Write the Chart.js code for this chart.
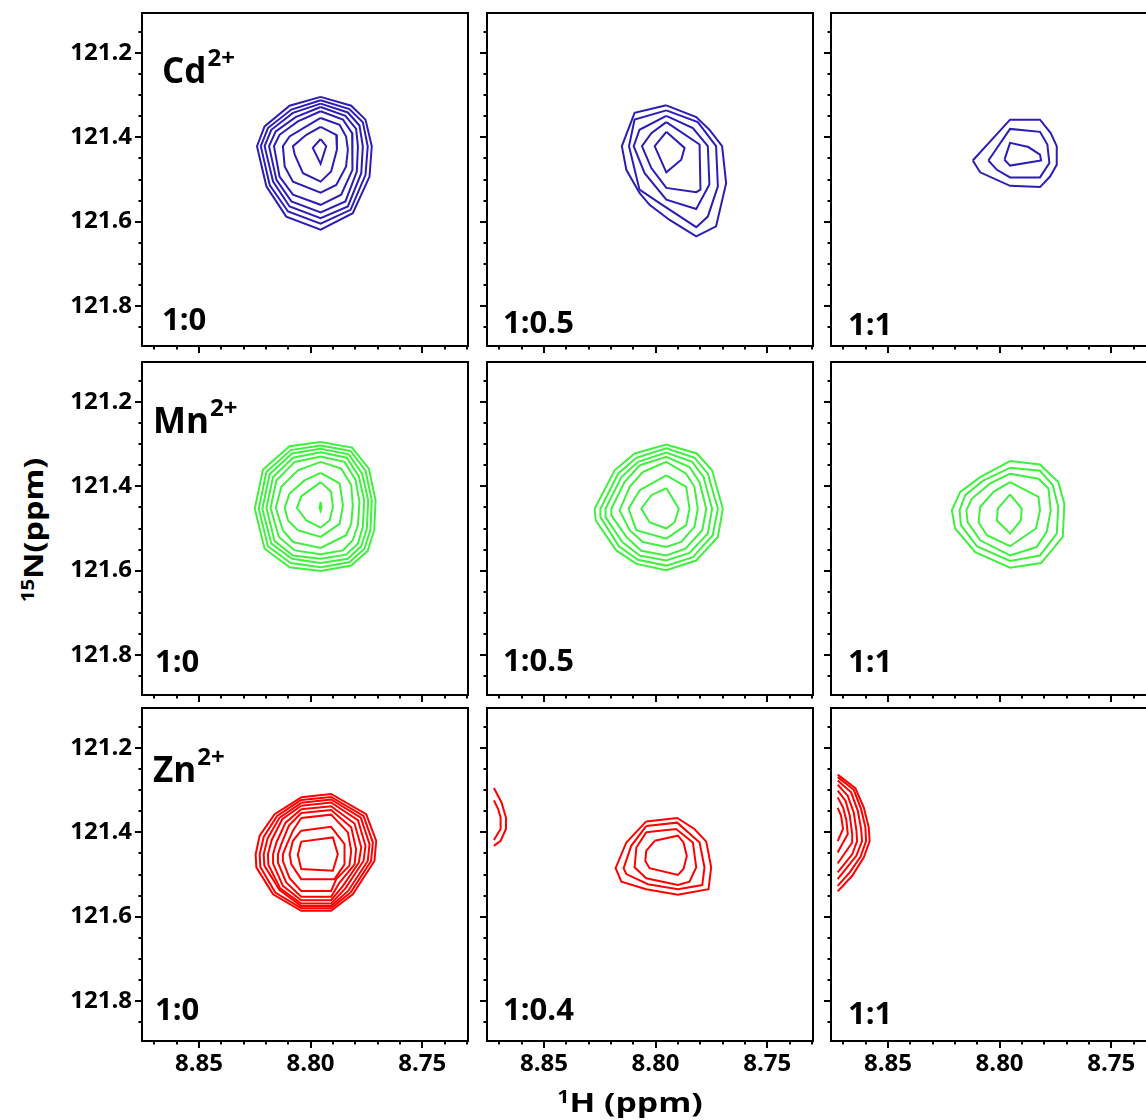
<!DOCTYPE html>
<html>
<head>
<meta charset="utf-8">
<title>HSQC titration contours</title>
<script src="https://cdn.jsdelivr.net/npm/chart.js@4.4.1/dist/chart.umd.min.js"></script>
<style>
  html, body { margin: 0; padding: 0; background: #fff; overflow: hidden; }
  body { width: 1146px; height: 1120px; position: relative; font-family: 'Open Sans', sans-serif; }
  canvas { position: absolute; }
  .title { position: absolute; font-weight: 700; font-size: 27px; line-height: 1; color: #000; white-space: nowrap; }
  .title sup { font-size: 17px; position: relative; top: -0.55em; vertical-align: baseline; }
  #xTitle { left: 630px; top: 1088px; transform: translateX(-50%) scaleX(1.25); }
  #yTitle { left: 32px; top: 530px; transform: translate(-50%, -50%) rotate(-90deg) scaleX(1.2); }
</style>
</head>
<body>
<div id="grid"></div>
<div id="xTitle" class="title"><sup>1</sup>H (ppm)</div>
<div id="yTitle" class="title"><sup>15</sup>N(ppm)</div>
<script>
// axis ranges and tick labels (ppm)
const xRange = [8.7295, 8.8755];
const yRange = [121.105, 121.895];
const xMajor = [8.85, 8.80, 8.75];
const yMajor = [121.2, 121.4, 121.6, 121.8];

const metals = ['Cd', 'Mn', 'Zn'];
const charges = ['2+', '2+', '2+'];
const ratios = [
  ['1:0', '1:0.5', '1:1'],
  ['1:0', '1:0.5', '1:1'],
  ['1:0', '1:0.4', '1:1']
];

// contour rings, [1H, 15N] in ppm, outer level first
const cd_1_0 = [
  [[8.7955,121.304],[8.7818,121.325],[8.7754,121.358],[8.7726,121.421],[8.7736,121.493],[8.7811,121.580],[8.7955,121.619],[8.8109,121.588],[8.8198,121.516],[8.8240,121.421],[8.8206,121.374],[8.8094,121.325]],
  [[8.7955,121.312],[8.7826,121.333],[8.7766,121.364],[8.7744,121.421],[8.7754,121.489],[8.7821,121.572],[8.7955,121.605],[8.8101,121.576],[8.8183,121.513],[8.8223,121.421],[8.8191,121.378],[8.8086,121.334]],
  [[8.7955,121.320],[8.7833,121.341],[8.7781,121.372],[8.7766,121.421],[8.7773,121.485],[8.7833,121.564],[8.7955,121.592],[8.8094,121.564],[8.8168,121.505],[8.8206,121.421],[8.8176,121.382],[8.8079,121.342]],
  [[8.7955,121.328],[8.7844,121.349],[8.7796,121.380],[8.7788,121.421],[8.7793,121.481],[8.7844,121.552],[8.7955,121.578],[8.8086,121.552],[8.8153,121.501],[8.8186,121.421],[8.8156,121.386],[8.8067,121.352]],
  [[8.7955,121.338],[8.7855,121.358],[8.7814,121.390],[8.7811,121.425],[8.7814,121.477],[8.7863,121.536],[8.7955,121.560],[8.8079,121.536],[8.8139,121.493],[8.8164,121.421],[8.8139,121.394],[8.8057,121.362]],
  [[8.7955,121.354],[8.7870,121.370],[8.7841,121.398],[8.7833,121.429],[8.7841,121.469],[8.7885,121.513],[8.7955,121.531],[8.8079,121.505],[8.8116,121.469],[8.8124,121.421],[8.8094,121.398],[8.8019,121.374]],
  [[8.7955,121.375],[8.7885,121.394],[8.7882,121.429],[8.7908,121.481],[8.7955,121.505],[8.8034,121.485],[8.8071,121.441],[8.8079,121.421],[8.8019,121.394]],
  [[8.7955,121.404],[8.7930,121.421],[8.7955,121.463],[8.7990,121.425]]
];
const cd_1_05 = [
  [[8.7952,121.324],[8.7818,121.352],[8.7759,121.382],[8.7702,121.421],[8.7684,121.509],[8.7729,121.611],[8.7818,121.635],[8.7937,121.596],[8.8027,121.560],[8.8072,121.532],[8.8131,121.477],[8.8151,121.421],[8.8094,121.342]],
  [[8.7952,121.336],[8.7811,121.364],[8.7729,121.421],[8.7721,121.516],[8.7766,121.588],[8.7818,121.613],[8.7982,121.556],[8.8072,121.524],[8.8119,121.421],[8.8094,121.358]],
  [[8.7952,121.349],[8.7833,121.378],[8.7766,121.421],[8.7759,121.512],[8.7818,121.570],[8.7952,121.548],[8.8049,121.485],[8.8098,121.421],[8.8072,121.382]],
  [[8.7952,121.364],[8.7803,121.417],[8.7799,121.524],[8.7818,121.530],[8.7952,121.520],[8.8019,121.473],[8.8061,121.421],[8.8019,121.390]],
  [[8.7952,121.387],[8.7870,121.425],[8.7885,121.453],[8.7952,121.483],[8.8004,121.421]]
];
const cd_1_1 = [
  [[8.8120,121.455],[8.7953,121.358],[8.7819,121.358],[8.7771,121.390],[8.7744,121.421],[8.7744,121.465],[8.7774,121.493],[8.7819,121.518],[8.7953,121.515],[8.8087,121.483]],
  [[8.8050,121.455],[8.7953,121.380],[8.7819,121.387],[8.7786,121.417],[8.7777,121.461],[8.7819,121.495],[8.7953,121.495],[8.8012,121.477]],
  [[8.7978,121.453],[8.7953,121.413],[8.7871,121.423],[8.7819,121.441],[8.7814,121.455],[8.7953,121.467]]
];
const mn_1_0 = [
  [[8.7955,121.295],[8.7814,121.308],[8.7739,121.358],[8.7709,121.433],[8.7715,121.504],[8.7744,121.553],[8.7818,121.588],[8.7955,121.601],[8.8094,121.592],[8.8206,121.548],[8.8250,121.453],[8.8213,121.360],[8.8094,121.305]],
  [[8.7955,121.303],[8.7821,121.316],[8.7754,121.363],[8.7726,121.433],[8.7732,121.503],[8.7759,121.548],[8.7826,121.580],[8.7955,121.592],[8.8089,121.582],[8.8191,121.542],[8.8232,121.453],[8.8198,121.366],[8.8089,121.314]],
  [[8.7955,121.311],[8.7829,121.324],[8.7769,121.370],[8.7742,121.433],[8.7748,121.500],[8.7773,121.542],[8.7833,121.572],[8.7955,121.582],[8.8083,121.572],[8.8176,121.536],[8.8216,121.453],[8.8183,121.371],[8.8083,121.322]],
  [[8.7955,121.319],[8.7838,121.332],[8.7784,121.376],[8.7760,121.433],[8.7766,121.496],[8.7788,121.536],[8.7841,121.562],[8.7955,121.572],[8.8079,121.564],[8.8161,121.530],[8.8198,121.451],[8.8168,121.378],[8.8079,121.332]],
  [[8.7955,121.329],[8.7848,121.342],[8.7799,121.384],[8.7781,121.437],[8.7788,121.492],[8.7811,121.528],[8.7855,121.552],[8.7955,121.561],[8.8071,121.552],[8.8142,121.520],[8.8179,121.451],[8.8153,121.386],[8.8071,121.342]],
  [[8.7955,121.342],[8.7863,121.358],[8.7818,121.397],[8.7811,121.445],[8.7818,121.489],[8.7841,121.516],[8.7955,121.546],[8.8079,121.532],[8.8124,121.504],[8.8156,121.451],[8.8131,121.401],[8.8057,121.362]],
  [[8.7955,121.368],[8.7870,121.393],[8.7855,121.445],[8.7870,121.489],[8.7955,121.520],[8.8057,121.504],[8.8101,121.481],[8.8116,121.451],[8.8094,121.417],[8.8027,121.386]],
  [[8.7955,121.390],[8.7908,121.413],[8.7900,121.449],[8.7915,121.481],[8.7955,121.498],[8.8019,121.481],[8.8061,121.451],[8.8042,121.424]],
  [[8.7955,121.437],[8.7951,121.451],[8.7955,121.458],[8.7960,121.451]]
];
const mn_1_05 = [
  [[8.8094,121.322],[8.7952,121.301],[8.7815,121.322],[8.7747,121.362],[8.7699,121.453],[8.7721,121.520],[8.7818,121.576],[8.7952,121.599],[8.8086,121.584],[8.8176,121.552],[8.8268,121.481],[8.8273,121.453],[8.8183,121.362]],
  [[8.8086,121.332],[8.7952,121.310],[8.7826,121.332],[8.7766,121.370],[8.7721,121.453],[8.7744,121.516],[8.7833,121.568],[8.7952,121.588],[8.8079,121.574],[8.8164,121.542],[8.8247,121.473],[8.8247,121.453],[8.8168,121.370]],
  [[8.8079,121.342],[8.7952,121.320],[8.7836,121.342],[8.7785,121.378],[8.7747,121.453],[8.7766,121.512],[8.7848,121.558],[8.7952,121.576],[8.8071,121.564],[8.8149,121.532],[8.8224,121.473],[8.8224,121.453],[8.8153,121.378]],
  [[8.8071,121.350],[8.7952,121.330],[8.7848,121.354],[8.7803,121.390],[8.7773,121.453],[8.7791,121.504],[8.7866,121.548],[8.7952,121.564],[8.8064,121.553],[8.8131,121.520],[8.8198,121.469],[8.8198,121.453],[8.8139,121.390]],
  [[8.8057,121.366],[8.7952,121.342],[8.7863,121.370],[8.7826,121.401],[8.7811,121.453],[8.7826,121.496],[8.7885,121.532],[8.7952,121.544],[8.8057,121.532],[8.8116,121.504],[8.8161,121.457],[8.8116,121.401]],
  [[8.7952,121.374],[8.7863,121.401],[8.7848,121.453],[8.7863,121.492],[8.7952,121.524],[8.8086,121.504],[8.8121,121.453],[8.8071,121.409]],
  [[8.7952,121.404],[8.7896,121.453],[8.7915,121.485],[8.7952,121.500],[8.8027,121.485],[8.8064,121.453],[8.8019,121.421]]
];
const mn_1_1 = [
  [[8.7953,121.340],[8.7819,121.348],[8.7737,121.390],[8.7710,121.441],[8.7717,121.520],[8.7814,121.582],[8.7953,121.593],[8.8109,121.556],[8.8199,121.500],[8.8214,121.457],[8.8176,121.413],[8.8087,121.378]],
  [[8.7953,121.356],[8.7819,121.363],[8.7762,121.397],[8.7737,121.449],[8.7744,121.512],[8.7819,121.564],[8.7953,121.577],[8.8102,121.542],[8.8173,121.492],[8.8179,121.457],[8.8154,121.421],[8.8072,121.386]],
  [[8.7953,121.370],[8.7826,121.382],[8.7781,121.405],[8.7771,121.457],[8.7789,121.508],[8.7834,121.544],[8.7953,121.564],[8.8087,121.528],[8.8143,121.485],[8.8149,121.457],[8.8124,121.429],[8.8042,121.393]],
  [[8.7953,121.390],[8.7826,121.425],[8.7819,121.457],[8.7837,121.500],[8.7953,121.542],[8.8057,121.516],[8.8094,121.485],[8.8087,121.449],[8.8027,121.413]],
  [[8.7953,121.419],[8.7901,121.453],[8.7905,121.481],[8.7953,121.512],[8.8012,121.481],[8.8008,121.453]]
];
const zn_1_0 = [
  [[8.8042,121.317],[8.7908,121.309],[8.7751,121.357],[8.7706,121.420],[8.7714,121.468],[8.7811,121.547],[8.7908,121.586],[8.8042,121.586],[8.8168,121.547],[8.8243,121.483],[8.8246,121.452],[8.8228,121.408],[8.8161,121.357]],
  [[8.8042,121.323],[8.7908,121.316],[8.7763,121.361],[8.7721,121.424],[8.7729,121.468],[8.7821,121.543],[8.7908,121.580],[8.8042,121.580],[8.8158,121.543],[8.8225,121.482],[8.8228,121.452],[8.8210,121.411],[8.8150,121.361]],
  [[8.8042,121.330],[8.7908,121.322],[8.7775,121.365],[8.7736,121.428],[8.7744,121.468],[8.7832,121.539],[8.7908,121.575],[8.8042,121.575],[8.8139,121.537],[8.8207,121.479],[8.8210,121.452],[8.8192,121.414],[8.8139,121.365]],
  [[8.8042,121.337],[8.7908,121.329],[8.7788,121.371],[8.7754,121.432],[8.7763,121.468],[8.7844,121.533],[8.7908,121.569],[8.8042,121.569],[8.8136,121.533],[8.8189,121.477],[8.8191,121.452],[8.8174,121.418],[8.8127,121.369]],
  [[8.8042,121.345],[8.7908,121.338],[8.7803,121.379],[8.7773,121.436],[8.7784,121.472],[8.7855,121.527],[8.7908,121.561],[8.8042,121.561],[8.8124,121.527],[8.8168,121.474],[8.8168,121.452],[8.8153,121.424],[8.8112,121.377]],
  [[8.8042,121.354],[8.7908,121.347],[8.7818,121.388],[8.7796,121.440],[8.7803,121.476],[8.7870,121.519],[8.7908,121.553],[8.8042,121.553],[8.8109,121.519],[8.8146,121.472],[8.8146,121.452],[8.8131,121.428],[8.8097,121.384]],
  [[8.8042,121.366],[8.7908,121.358],[8.7833,121.400],[8.7818,121.444],[8.7826,121.479],[8.7885,121.511],[8.7908,121.539],[8.8042,121.539],[8.8094,121.509],[8.8124,121.468],[8.8124,121.452],[8.8109,121.432],[8.8079,121.396]],
  [[8.8042,121.396],[8.7908,121.387],[8.7848,121.428],[8.7848,121.476],[8.7893,121.511],[8.8042,121.511],[8.8086,121.476],[8.8094,121.452],[8.8079,121.420]],
  [[8.8042,121.422],[8.7900,121.412],[8.7878,121.452],[8.7900,121.491],[8.8042,121.487],[8.8057,121.453]]
];
const zn_1_04 = [
  [[8.8042,121.374],[8.7903,121.366],[8.7826,121.392],[8.7773,121.422],[8.7751,121.483],[8.7763,121.535],[8.7900,121.548],[8.8042,121.535],[8.8153,121.517],[8.8179,121.485],[8.8131,121.424]],
  [[8.8042,121.385],[8.7903,121.377],[8.7803,121.424],[8.7781,121.483],[8.7791,121.525],[8.7900,121.535],[8.8034,121.523],[8.8131,121.499],[8.8143,121.485],[8.8109,121.432]],
  [[8.8042,121.400],[8.7908,121.392],[8.7833,121.424],[8.7818,121.483],[8.7848,121.517],[8.7900,121.525],[8.8042,121.509],[8.8094,121.483],[8.8086,121.436]],
  [[8.8004,121.420],[8.7900,121.408],[8.7875,121.424],[8.7860,121.456],[8.7875,121.487],[8.7900,121.501],[8.8027,121.485],[8.8046,121.468],[8.8042,121.444]]
];
// neighbouring peak cut by the spectral window (open arcs)
const zn_1_04_edge = [
  [[8.8724,121.295],[8.8690,121.329],[8.8670,121.365],[8.8670,121.392],[8.8694,121.420],[8.8724,121.432]],
  [[8.8724,121.324],[8.8705,121.345],[8.8694,121.365],[8.8694,121.392],[8.8724,121.418]]
];
const zn_1_1_edge = [
  [[8.8725,121.263],[8.8646,121.295],[8.8608,121.341],[8.8586,121.388],[8.8582,121.421],[8.8608,121.459],[8.8660,121.503],[8.8725,121.540]],
  [[8.8725,121.269],[8.8653,121.299],[8.8620,121.345],[8.8601,121.388],[8.8598,121.421],[8.8623,121.458],[8.8671,121.495],[8.8725,121.527]],
  [[8.8725,121.277],[8.8665,121.305],[8.8635,121.349],[8.8620,121.392],[8.8616,121.421],[8.8641,121.455],[8.8683,121.483],[8.8725,121.511]],
  [[8.8725,121.287],[8.8680,121.313],[8.8653,121.353],[8.8641,121.396],[8.8638,121.421],[8.8660,121.452],[8.8725,121.495]],
  [[8.8725,121.301],[8.8690,121.325],[8.8671,121.360],[8.8660,121.404],[8.8660,121.424],[8.8725,121.474]],
  [[8.8725,121.317],[8.8701,121.341],[8.8686,121.372],[8.8680,121.404],[8.8725,121.448]],
  [[8.8725,121.342],[8.8710,121.360],[8.8701,121.392],[8.8725,121.421]]
];

const closedRings = [
  [cd_1_0, cd_1_05, cd_1_1],
  [mn_1_0, mn_1_05, mn_1_1],
  [zn_1_0, zn_1_04, []]
];
const openArcs = [
  [[], [], []],
  [[], [], []],
  [[], zn_1_04_edge, zn_1_1_edge]
];

// layout
const colors = ['#2c1db5', '#3ff03f', '#ff0000'];
const colLeft = [142, 487, 831];
const rowTop = [13, 362, 708];
const panelW = 326, panelH = 333;
const AX_W = 80, AX_H = 45, PAD = 18;
const metalPos = [[20, 70], [11, 71], [11, 74]];
const ratioPos = [
  [[20, 16], [16, 13], [17, 11]],
  [[13, 23], [16, 24], [17, 23]],
  [[13, 21], [16, 21], [17, 17]]
];

const isMajor = (v, list) => list.some(m => Math.abs(m - v) < 1e-6);

const panelDecor = {
  id: 'panelDecor',
  afterDraw(chart, args, opts) {
    const { ctx, chartArea: a, scales: { x, y } } = chart;
    ctx.save();
    ctx.strokeStyle = '#000';
    ctx.lineWidth = 2;
    ctx.beginPath();
    y.ticks.forEach(t => {
      const py = Math.round(y.getPixelForValue(t.value));
      const len = isMajor(t.value, yMajor) ? 7 : 3.5;
      ctx.moveTo(a.left, py);
      ctx.lineTo(a.left - len, py);
    });
    x.ticks.forEach(t => {
      const px = Math.round(x.getPixelForValue(t.value));
      const len = isMajor(t.value, xMajor) ? 7 : 3.5;
      ctx.moveTo(px, a.bottom);
      ctx.lineTo(px, a.bottom + len);
    });
    ctx.stroke();
    ctx.strokeRect(a.left, a.top, a.right - a.left, a.bottom - a.top);

    ctx.fillStyle = '#000';
    ctx.textBaseline = 'alphabetic';
    ctx.textAlign = 'left';
    if (opts.metal) {
      const [mx, my] = opts.metalPos;
      ctx.font = 'bold 35px "Open Sans"';
      ctx.fillText(opts.metal, a.left + mx, a.top + my);
      const w = ctx.measureText(opts.metal).width;
      ctx.font = 'bold 24px "Open Sans"';
      ctx.fillText(opts.charge, a.left + mx + w + 1, a.top + my - 17);
    }
    const [rx, ry] = opts.ratioPos;
    ctx.font = 'bold 31px "Open Sans"';
    ctx.fillText(opts.ratio, a.left + rx, a.bottom - ry);
    ctx.restore();
  }
};

const grid = document.getElementById('grid');

for (let r = 0; r < 3; r++) {
  for (let c = 0; c < 3; c++) {
    const canvas = document.createElement('canvas');
    canvas.width = AX_W + panelW + PAD;
    canvas.height = PAD + panelH + AX_H;
    canvas.style.left = (colLeft[c] - AX_W) + 'px';
    canvas.style.top = (rowTop[r] - PAD) + 'px';
    grid.appendChild(canvas);

    const toPts = ring => ring.map(([x, y]) => ({ x, y }));
    const datasets = [];
    closedRings[r][c].forEach(ring => {
      datasets.push({ data: toPts(ring.concat([ring[0]])), borderColor: colors[r] });
    });
    openArcs[r][c].forEach(arc => {
      datasets.push({ data: toPts(arc), borderColor: colors[r] });
    });

    const showY = c === 0;
    const showX = r === 2;

    new Chart(canvas.getContext('2d'), {
      type: 'scatter',
      data: { datasets },
      options: {
        responsive: false,
        animation: false,
        events: [],
        layout: { padding: { top: PAD, right: PAD, left: 0, bottom: 0 } },
        datasets: {
          scatter: { showLine: true, pointRadius: 0, borderWidth: 2, fill: false, tension: 0 }
        },
        scales: {
          x: {
            type: 'linear',
            position: 'bottom',
            reverse: true,
            min: xRange[0],
            max: xRange[1],
            afterFit: s => { s.height = AX_H; },
            border: { display: false },
            grid: { drawOnChartArea: false, drawTicks: true, tickLength: 7, tickColor: 'rgba(0,0,0,0)' },
            ticks: {
              stepSize: 0.01,
              includeBounds: false,
              autoSkip: false,
              maxRotation: 0,
              padding: 2,
              color: '#000',
              font: { family: 'Open Sans', size: 24, weight: 'bold' },
              callback: v => (showX && isMajor(v, xMajor)) ? v.toFixed(2) : ''
            }
          },
          y: {
            type: 'linear',
            position: 'left',
            reverse: true,
            min: yRange[0],
            max: yRange[1],
            afterFit: s => { s.width = AX_W; },
            border: { display: false },
            grid: { drawOnChartArea: false, drawTicks: true, tickLength: 7, tickColor: 'rgba(0,0,0,0)' },
            ticks: {
              stepSize: 0.05,
              includeBounds: false,
              autoSkip: false,
              padding: 3,
              color: '#000',
              font: { family: 'Open Sans', size: 24, weight: 'bold' },
              callback: v => (showY && isMajor(v, yMajor)) ? v.toFixed(1) : ''
            }
          }
        },
        plugins: {
          legend: { display: false },
          tooltip: { enabled: false },
          panelDecor: {
            metal: c === 0 ? metals[r] : null,
            charge: charges[r],
            metalPos: metalPos[r],
            ratio: ratios[r][c],
            ratioPos: ratioPos[r][c]
          }
        }
      },
      plugins: [panelDecor]
    });
  }
}
</script>
</body>
</html>
